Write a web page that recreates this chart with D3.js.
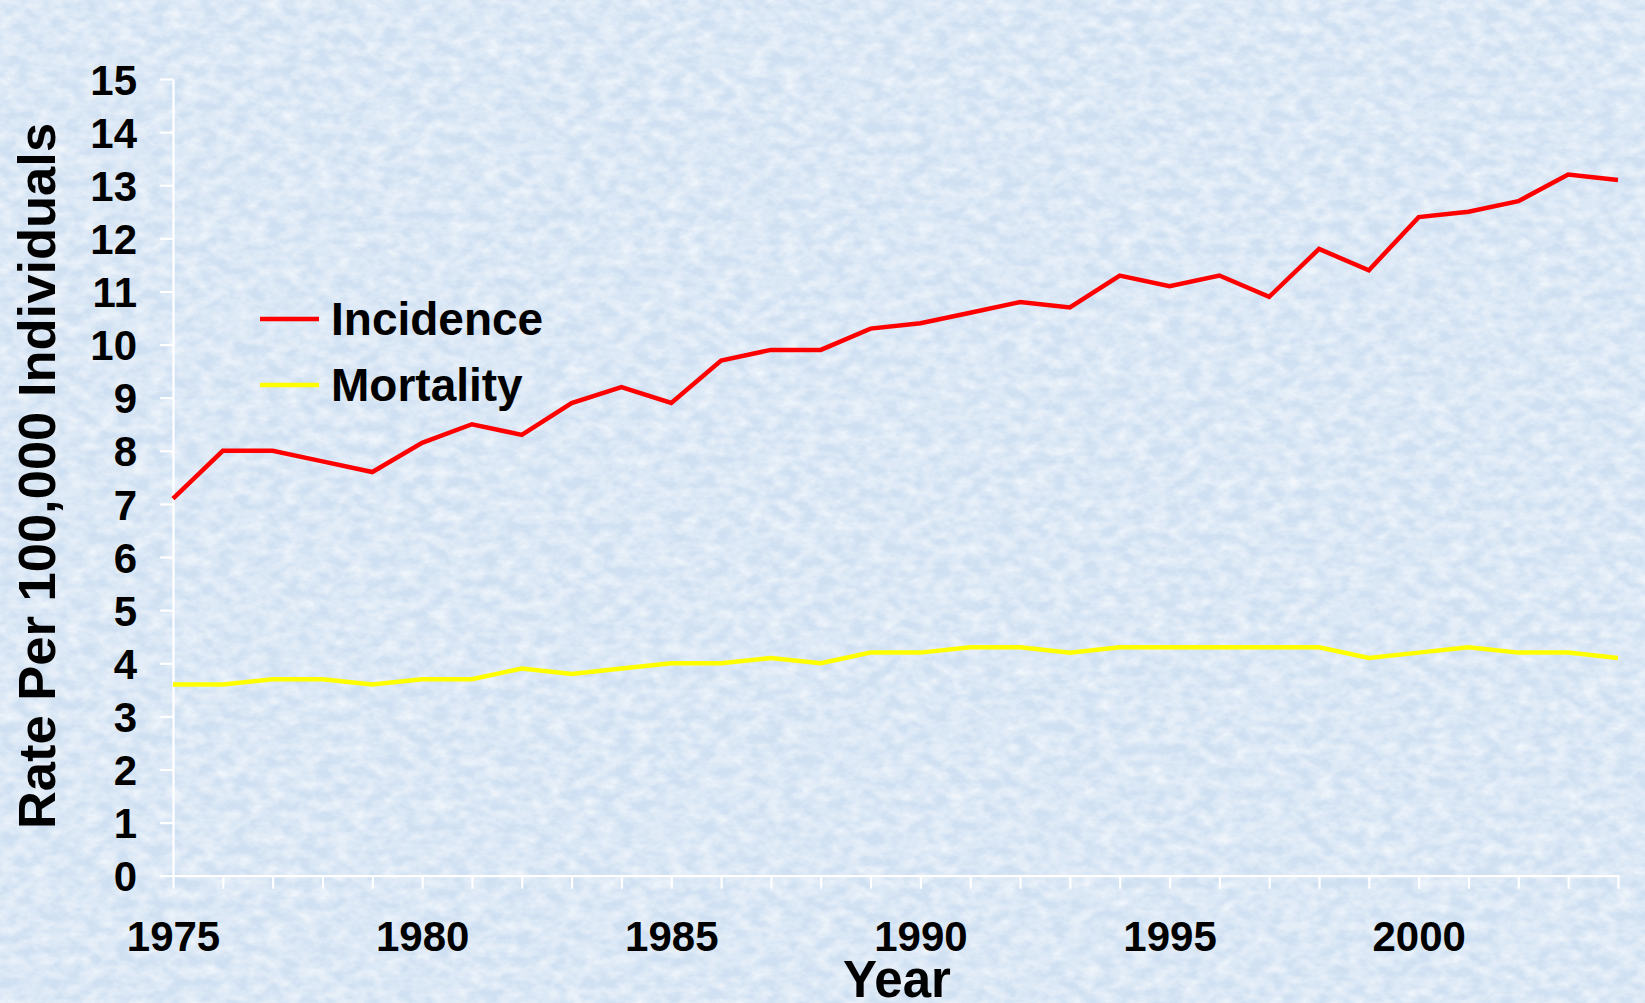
<!DOCTYPE html>
<html>
<head>
<meta charset="utf-8">
<script src="https://cdn.jsdelivr.net/npm/d3@7"></script>
<style>
  body { margin: 0; overflow: hidden; }
  text { font-family: "Liberation Sans", Arial, sans-serif; font-weight: bold; fill: #000; }
</style>
</head>
<body>
<div id="svg-area"></div>
<script>
// chart data
var years = d3.range(1975, 2005);
var incidence = [7.1, 8.0, 8.0, 7.8, 7.6, 8.15, 8.5, 8.3, 8.9, 9.2,
                 8.9, 9.7, 9.9, 9.9, 10.3, 10.4, 10.6, 10.8, 10.7, 11.3,
                 11.1, 11.3, 10.9, 11.8, 11.4, 12.4, 12.5, 12.7, 13.2, 13.1];
var mortality = [3.6, 3.6, 3.7, 3.7, 3.6, 3.7, 3.7, 3.9, 3.8, 3.9,
                 4.0, 4.0, 4.1, 4.0, 4.2, 4.2, 4.3, 4.3, 4.2, 4.3,
                 4.3, 4.3, 4.3, 4.3, 4.1, 4.2, 4.3, 4.2, 4.2, 4.1];
var yTicks = d3.range(0, 16);
var xLabelYears = [1975, 1980, 1985, 1990, 1995, 2000];
var seriesNames = ["Incidence", "Mortality"];
var seriesColors = ["#ff0000", "#ffff00"];

var svgWidth = 1645;
var svgHeight = 1003;

var svg = d3.select("#svg-area")
    .append("svg")
    .attr("width", svgWidth)
    .attr("height", svgHeight)
;

// marbled light blue background
var defs = svg.append("defs");
var filt = defs.append("filter")
    .attr("id", "marble")
    .attr("x", 0).attr("y", 0).attr("width", "100%").attr("height", "100%");
filt.append("feTurbulence")
    .attr("type", "fractalNoise")
    .attr("baseFrequency", "0.06 0.09")
    .attr("numOctaves", 4)
    .attr("seed", 7);
filt.append("feColorMatrix")
    .attr("type", "matrix")
    .attr("values", "0 0 0 0 1  0 0 0 0 1  0 0 0 0 1  1.1 0 0 0 -0.3");

svg.append("rect")
    .attr("width", svgWidth).attr("height", svgHeight)
    .attr("fill", "#cfe0f2");
svg.append("rect")
    .attr("width", svgWidth).attr("height", svgHeight)
    .attr("filter", "url(#marble)");

var x = d3.scaleLinear().domain([1975, 2004]).range([173, 1618]);
var y = d3.scaleLinear().domain([0, 15]).range([875.7, 79]);

// axes
var yAxis = svg.append("g")
    .attr("transform", "translate(173,0)")
    .call(d3.axisLeft(y).tickValues(yTicks).tickSize(13).tickSizeOuter(0).tickPadding(23));

var xAxis = svg.append("g")
    .attr("transform", "translate(0,875.7)")
    .call(d3.axisBottom(x).tickValues(years).tickSize(13).tickSizeOuter(0)
        .tickFormat(d => xLabelYears.indexOf(d) >= 0 ? d : ""));

svg.selectAll(".domain, .tick line")
    .attr("stroke", "#ffffff")
    .attr("stroke-width", 2.2);
yAxis.selectAll("text")
    .attr("font-size", 42)
    .attr("dy", "0.36em")
    .style("font-family", "'Liberation Sans', Arial, sans-serif")
    .style("font-weight", "bold")
    .attr("fill", "#000");
xAxis.selectAll("text")
    .attr("font-size", 42)
    .attr("y", 45)
    .style("font-family", "'Liberation Sans', Arial, sans-serif")
    .style("font-weight", "bold")
    .attr("fill", "#000");

// lines
var line = d3.line()
    .x((d, i) => x(years[i]))
    .y(d => y(d));

[incidence, mortality].forEach(function(series, k) {
    svg.append("path")
        .datum(series)
        .attr("fill", "none")
        .attr("stroke", seriesColors[k])
        .attr("stroke-width", 4.5)
        .attr("stroke-linejoin", "miter")
        .attr("d", line);
});

// legend
var legend = svg.append("g");
seriesNames.forEach(function(name, k) {
    var ly = 319 + k * 66;
    legend.append("line")
        .attr("x1", 260).attr("x2", 319)
        .attr("y1", ly).attr("y2", ly)
        .attr("stroke", seriesColors[k])
        .attr("stroke-width", 4.5);
    legend.append("text")
        .attr("x", 331)
        .attr("y", ly + 16)
        .attr("font-size", 46)
        .text(name);
});

// axis titles
svg.append("text")
    .attr("transform", "translate(55,476) rotate(-90)")
    .attr("text-anchor", "middle")
    .attr("font-size", 52.5)
    .text("Rate Per 100,000 Individuals");

svg.append("text")
    .attr("x", 897)
    .attr("y", 997)
    .attr("text-anchor", "middle")
    .attr("font-size", 51)
    .text("Year");
</script>
</body>
</html>
